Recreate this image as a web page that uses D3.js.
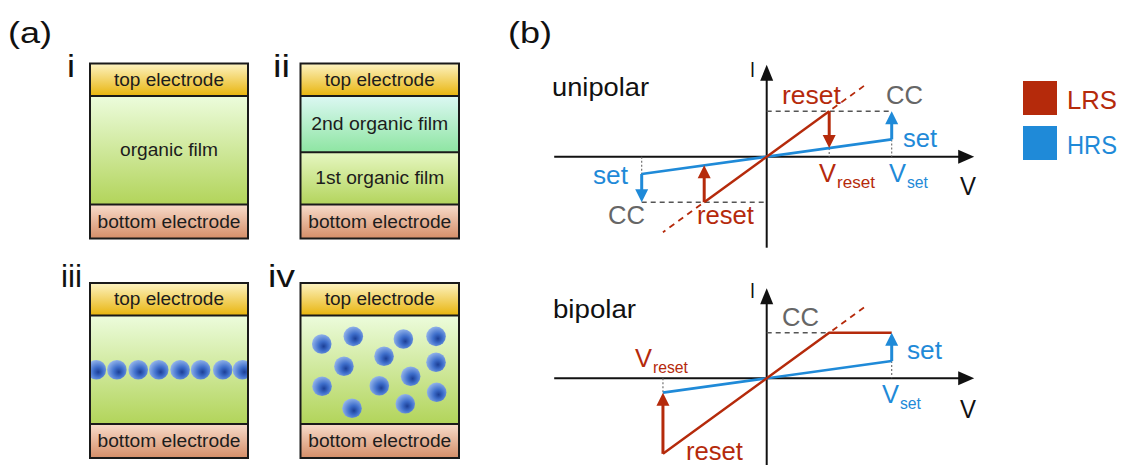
<!DOCTYPE html>
<html>
<head>
<meta charset="utf-8">
<script src="https://cdn.jsdelivr.net/npm/d3@7"></script>
<style>
  html, body { margin: 0; padding: 0; background: #fff; }
  svg { display: block; font-family: "Liberation Sans", Arial, sans-serif; }
</style>
</head>
<body>
<svg id="fig" width="1123" height="465"></svg>
<script>
// ---------------- data ----------------
// (a) device stacks: layer kinds from top to bottom and the text printed in each
const deviceIds = ["i", "ii", "iii", "iv"];
const layerKinds = [
  ["top", "organic", "bottom"],
  ["top", "organic2", "organic1", "bottom"],
  ["top", "organic", "bottom"],
  ["top", "organic", "bottom"]
];
const layerLabels = [
  ["top electrode", "organic film", "bottom electrode"],
  ["top electrode", "2nd organic film", "1st organic film", "bottom electrode"],
  ["top electrode", "", "bottom electrode"],
  ["top electrode", "", "bottom electrode"]
];
// nanoparticles, as fractions of the organic layer (x across, y down)
const chainParticles = [
  [0.04, 0.5], [0.17, 0.5], [0.305, 0.5], [0.435, 0.5],
  [0.57, 0.5], [0.70, 0.5], [0.84, 0.5], [0.965, 0.5]
];
const dispersedParticles = [
  [0.134, 0.263], [0.333, 0.192], [0.649, 0.217], [0.855, 0.192],
  [0.527, 0.376], [0.274, 0.468], [0.855, 0.431], [0.695, 0.560],
  [0.136, 0.652], [0.497, 0.647], [0.859, 0.708], [0.325, 0.855],
  [0.661, 0.814]
];

// (b) I–V sketches, in units of V_set (voltage) and compliance current (current)
const states = ["LRS", "HRS"];
const V_SET = 1, V_RESET = 0.5, I_CC = 1;

const unipolarLRS = [[-0.5, -1], [0, 0], [0.5, 1]];
const unipolarLRSext = [[[0.5, 1], [0.79, 1.58]], [[-0.5, -1], [-0.83, -1.66]]];
const unipolarHRS = [[-1, -0.38], [1, 0.38]];
const unipolarCC = [[[0, 1], [1, 1]], [[-1, -1], [0, -1]]];
const unipolarGuides = [[[-1, 0], [-1, -0.38]], [[0.5, 0.19], [0.5, 0]], [[1, 0.38], [1, 0]]];
const unipolarSwitch = [
  { state: "LRS", from: [0.5, 1], to: [0.5, 0.19] },
  { state: "LRS", from: [-0.5, -1], to: [-0.5, -0.19] },
  { state: "HRS", from: [1, 0.38], to: [1, 1] },
  { state: "HRS", from: [-1, -0.38], to: [-1, -1] }
];

const bipolarLRS = [[-0.83, -1.66], [0, 0], [0.5, 1], [1, 1]];
const bipolarLRSext = [[[0.5, 1], [0.79, 1.58]]];
const bipolarHRS = [[-0.83, -0.315], [1, 0.38]];
const bipolarCC = [[[0, 1], [0.5, 1]]];
const bipolarGuides = [[[-0.83, 0], [-0.83, -0.315]], [[1, 0.38], [1, 0]]];
const bipolarSwitch = [
  { state: "HRS", from: [1, 0.38], to: [1, 1] },
  { state: "LRS", from: [-0.83, -1.66], to: [-0.83, -0.315] }
];

// ---------------- styles ----------------
const RED = "#b52a0b", BLUE = "#1f8ad8", GRAY = "#666", INK = "#111";
const stateColor = { LRS: RED, HRS: BLUE };

const svg = d3.select("#fig");
svg.append("rect").attr("width", 1123).attr("height", 465).attr("fill", "#fff");
const defs = svg.append("defs");

function vGrad(id, top, bottom) {
  const g = defs.append("linearGradient").attr("id", id)
    .attr("x1", 0).attr("y1", 0).attr("x2", 0).attr("y2", 1);
  g.append("stop").attr("offset", "0%").attr("stop-color", top);
  g.append("stop").attr("offset", "100%").attr("stop-color", bottom);
}
vGrad("g-top", "#fdf3c2", "#e8b40c");
vGrad("g-organic", "#ecfcdc", "#b2d45a");
vGrad("g-organic2", "#dcf8f3", "#8ee5a2");
vGrad("g-organic1", "#e6f7c2", "#b3d45c");
vGrad("g-bottom", "#f8dccb", "#d58e68");

const rg = defs.append("radialGradient").attr("id", "g-np")
  .attr("cx", 0.58).attr("cy", 0.58).attr("r", 0.7).attr("fx", 0.6).attr("fy", 0.62);
rg.append("stop").attr("offset", "0%").attr("stop-color", "#1c3f96");
rg.append("stop").attr("offset", "35%").attr("stop-color", "#3e6ecb");
rg.append("stop").attr("offset", "100%").attr("stop-color", "#aac7f3");

function label(g, s, x, y, o) {
  const t = g.append("text").attr("x", x).attr("y", y).text(s)
    .attr("font-size", o.size).attr("fill", o.color || INK);
  if (o.width) t.attr("textLength", o.width).attr("lengthAdjust", "spacingAndGlyphs");
  if (o.anchor) t.attr("text-anchor", o.anchor);
  return t;
}

// ---------------- panel (a) ----------------
const pa = svg.append("g");
label(pa, "(a)", 8, 43, { size: 30, width: 44 });

const boxCols = [[90, 248], [300.5, 459]];
const boxRows = [[63.5, 238.5], [283, 458]];
const topH = 32.5, botH = 34;
const numeralPos = [[67, 77], [273, 77], [61, 287], [268, 287]];
const numeralWidth = [8, 17, 21, 27];

deviceIds.forEach((id, k) => {
  const [x0, x1] = boxCols[k % 2];
  const [y0, y1] = boxRows[Math.floor(k / 2)];
  const kinds = layerKinds[k];
  const names = layerLabels[k];
  // layer boundaries
  const mid0 = y0 + topH, mid1 = y1 - botH;
  let edges;
  if (kinds.length === 3) edges = [y0, mid0, mid1, y1];
  else {
    const split = mid0 + (mid1 - mid0) * 0.518;
    edges = [y0, mid0, split, mid1, y1];
  }
  const g = pa.append("g");
  kinds.forEach((kind, j) => {
    g.append("rect").attr("x", x0).attr("y", edges[j])
      .attr("width", x1 - x0).attr("height", edges[j + 1] - edges[j])
      .attr("fill", `url(#g-${kind})`);
  });

  // nanoparticles in the organic layer
  const parts = k === 2 ? chainParticles : k === 3 ? dispersedParticles : [];
  if (parts.length) {
    const px = d3.scaleLinear().domain([0, 1]).range([x0, x1]);
    const py = d3.scaleLinear().domain([0, 1]).range([mid0, mid1]);
    const clipId = "clip-" + id;
    defs.append("clipPath").attr("id", clipId).append("rect")
      .attr("x", x0).attr("y", mid0).attr("width", x1 - x0).attr("height", mid1 - mid0);
    g.append("g").attr("clip-path", `url(#${clipId})`)
      .selectAll("circle").data(parts).join("circle")
      .attr("cx", d => px(d[0])).attr("cy", d => py(d[1]))
      .attr("r", 9.8).attr("fill", "url(#g-np)");
  }

  // layer outlines
  edges.slice(1, -1).forEach(e => {
    g.append("line").attr("x1", x0).attr("x2", x1).attr("y1", e).attr("y2", e)
      .attr("stroke", "#1a1a1a").attr("stroke-width", 2);
  });
  g.append("rect").attr("x", x0).attr("y", y0).attr("width", x1 - x0).attr("height", y1 - y0)
    .attr("fill", "none").attr("stroke", "#1a1a1a").attr("stroke-width", 2);

  const widths = { "top electrode": 110, "organic film": 98, "2nd organic film": 137,
                   "1st organic film": 129, "bottom electrode": 143 };
  names.forEach((nm, j) => {
    if (!nm) return;
    const cy = (edges[j] + edges[j + 1]) / 2;
    label(g, nm, (x0 + x1) / 2, cy + 6, { size: 17.5, width: widths[nm], anchor: "middle", color: "#1c1c1c" });
  });

  label(pa, id, numeralPos[k][0], numeralPos[k][1], { size: 32, width: numeralWidth[k] });
});

// ---------------- panel (b) ----------------
const pb = svg.append("g");
label(pb, "(b)", 508, 43, { size: 30, width: 44 });

const xV = d3.scaleLinear().domain([0, 1]).range([766.7, 891.7]);
const yUni = d3.scaleLinear().domain([0, 1]).range([156.7, 111.2]);
const yBi = d3.scaleLinear().domain([0, 1]).range([378.3, 332.8]);

function arrow(g, x1, y1, x2, y2, color, w, hl, hw) {
  const dx = x2 - x1, dy = y2 - y1, L = Math.hypot(dx, dy);
  const ux = dx / L, uy = dy / L;
  const bx = x2 - ux * hl, by = y2 - uy * hl;
  g.append("line").attr("x1", x1).attr("y1", y1).attr("x2", bx + ux * 1).attr("y2", by + uy * 1)
    .attr("stroke", color).attr("stroke-width", w);
  g.append("path")
    .attr("d", `M${x2},${y2}L${bx - uy * hw / 2},${by + ux * hw / 2}L${bx + uy * hw / 2},${by - ux * hw / 2}Z`)
    .attr("fill", color);
}

function ivPanel(y, o) {
  const g = pb.append("g");
  const line = d3.line().x(d => xV(d[0])).y(d => y(d[1]));

  // axes with arrow heads
  arrow(g, xV(o.vRange[0]), y(0), xV(o.vRange[1]), y(0), INK, 2, 16, 14);
  arrow(g, xV(0), y(o.iRange[0]), xV(0), y(o.iRange[1]), INK, 2, 16, 13);

  // compliance level and guides
  o.cc.forEach(s => g.append("path").attr("d", line(s)).attr("fill", "none")
    .attr("stroke", "#555").attr("stroke-width", 1.4).attr("stroke-dasharray", "5,4"));
  o.guides.forEach(s => g.append("path").attr("d", line(s)).attr("fill", "none")
    .attr("stroke", GRAY).attr("stroke-width", 1.1).attr("stroke-dasharray", "2,2"));

  // LRS extension beyond the switching point
  o.lrsExt.forEach(s => g.append("path").attr("d", line(s)).attr("fill", "none")
    .attr("stroke", RED).attr("stroke-width", 1.8).attr("stroke-dasharray", "6,5")
    .attr("stroke-dashoffset", -4));

  g.append("path").attr("d", line(o.hrs)).attr("fill", "none")
    .attr("stroke", BLUE).attr("stroke-width", 2.6);
  g.append("path").attr("d", line(o.lrs)).attr("fill", "none")
    .attr("stroke", RED).attr("stroke-width", 2.4).attr("stroke-linejoin", "miter");

  o.sw.forEach(a => arrow(g, xV(a.from[0]), y(a.from[1]), xV(a.to[0]), y(a.to[1]),
    stateColor[a.state], 3, 13, 13));
  return g;
}

const gu = ivPanel(yUni, {
  vRange: [-1.7, 1.66], iRange: [-2.0, 2.02],
  lrs: unipolarLRS, lrsExt: unipolarLRSext, hrs: unipolarHRS,
  cc: unipolarCC, guides: unipolarGuides, sw: unipolarSwitch
});
const gb = ivPanel(yBi, {
  vRange: [-1.7, 1.66], iRange: [-1.95, 1.98],
  lrs: bipolarLRS, lrsExt: bipolarLRSext, hrs: bipolarHRS,
  cc: bipolarCC, guides: bipolarGuides, sw: bipolarSwitch
});

const FS = 25;
function sub(g, main, subs, x, y, color, wMain, wSub) {
  label(g, main, x, y, { size: FS, width: wMain, color });
  label(g, subs, x + wMain + 1, y + 6, { size: 17, width: wSub, color });
}

// unipolar annotations
label(gu, "unipolar", 552, 96, { size: 26, width: 97 });
label(gu, "I", 750, 77, { size: 22, width: 5 });
label(gu, "V", 960, 195, { size: FS, width: 16 });
label(gu, "reset", 782, 104, { size: FS, width: 59, color: RED });
label(gu, "CC", 886, 104, { size: FS, width: 37, color: GRAY });
label(gu, "set", 903, 147, { size: FS, width: 34, color: BLUE });
sub(gu, "V", "reset", 819, 182, RED, 17, 38);
sub(gu, "V", "set", 889, 182, BLUE, 17, 21);
label(gu, "set", 593, 184, { size: FS, width: 35, color: BLUE });
label(gu, "CC", 608, 224, { size: FS, width: 37, color: GRAY });
label(gu, "reset", 697, 224, { size: FS, width: 57, color: RED });

// bipolar annotations
label(gb, "bipolar", 553, 318, { size: 26, width: 83 });
label(gb, "I", 750, 298, { size: 22, width: 5 });
label(gb, "V", 960, 418, { size: FS, width: 16 });
label(gb, "CC", 782, 326, { size: FS, width: 37, color: GRAY });
label(gb, "set", 907, 359, { size: FS, width: 35, color: BLUE });
sub(gb, "V", "set", 882, 403, BLUE, 17, 21);
sub(gb, "V", "reset", 635, 367, RED, 17, 35);
label(gb, "reset", 686, 460, { size: FS, width: 57, color: RED });

// legend
const lg = svg.append("g");
states.forEach((s, k) => {
  lg.append("rect").attr("x", 1023).attr("y", 81 + k * 45).attr("width", 34).attr("height", 34)
    .attr("fill", stateColor[s]);
  label(lg, s, 1067, 109 + k * 45, { size: 25, width: 50, color: stateColor[s] });
});
</script>
</body>
</html>
